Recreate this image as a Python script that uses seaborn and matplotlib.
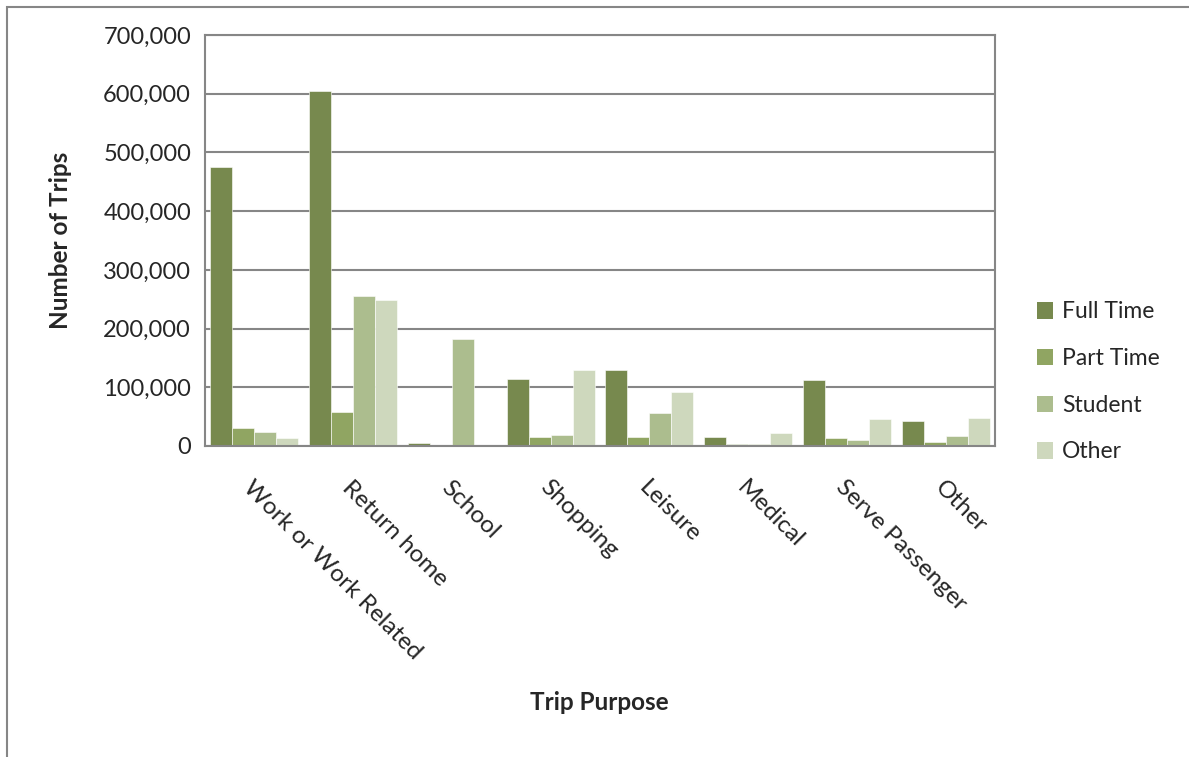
import pandas as pd
import matplotlib.pyplot as plt
import matplotlib.transforms as mtransforms
from matplotlib.patches import Rectangle
from matplotlib.ticker import FuncFormatter
import seaborn as sns

# values
purposes = ['Work or Work Related', 'Return home', 'School', 'Shopping',
            'Leisure', 'Medical', 'Serve Passenger', 'Other']
full_time = [475000, 604000, 4500, 114000, 130000, 15000, 112000, 43000]
part_time = [30000, 58000, 1000, 16000, 15000, 3500, 13000, 7000]
student = [23000, 255000, 182000, 19000, 57000, 4000, 10000, 16500]
other = [14000, 248000, 0, 130000, 92000, 22000, 46000, 47000]

groups = ['Full Time', 'Part Time', 'Student', 'Other']
colors = ['#7B9344', '#94B057', '#AEC586', '#CFDCB9']

rows = []
for name, vals in zip(groups, [full_time, part_time, student, other]):
    for p, v in zip(purposes, vals):
        rows.append({'Trip Purpose': p, 'Group': name, 'Trips': v})
df = pd.DataFrame(rows)

sns.set_style('white')
plt.rcParams['font.family'] = ['Lato', 'DejaVu Sans']

fig = plt.figure(figsize=(11.89, 7.57), dpi=100)
ax = fig.add_axes([205/1189, 1 - 446/757, 790/1189, 411/757])

sns.barplot(data=df, x='Trip Purpose', y='Trips', hue='Group',
            hue_order=groups, order=purposes, palette=colors,
            width=0.89, edgecolor='white', linewidth=0.4, ax=ax, legend=True)

ax.set_ylim(0, 700000)
ax.set_xlim(-0.5, len(purposes) - 0.5)
ax.set_yticks(range(0, 700001, 100000))
ax.yaxis.set_major_formatter(FuncFormatter(lambda v, _: f'{int(v):,}'))
ax.yaxis.grid(True, color='#868686', linewidth=1.5)
ax.set_axisbelow(True)
for s in ax.spines.values():
    s.set_color('#868686')
    s.set_linewidth(1.5)
ax.tick_params(axis='y', labelsize=17, length=0, pad=10)
ax.tick_params(axis='x', labelsize=17.5, length=0, pad=22)

offset = mtransforms.ScaledTranslation(0, 0, fig.dpi_scale_trans)
for lab in ax.get_xticklabels():
    lab.set_rotation(-45)
    lab.set_ha('left')
    lab.set_va('top')
    lab.set_rotation_mode('anchor')
    lab.set_transform(lab.get_transform() + offset)

ax.set_xlabel('')
ax.set_ylabel('')
fig.text(599/1189, 1 - 703/757, 'Trip Purpose', fontsize=17.5, fontweight='bold',
         ha='center', va='center')
fig.text(60/1189, 1 - 240/757, 'Number of Trips', fontsize=17.5, fontweight='bold',
         ha='center', va='center', rotation=90)

leg = ax.legend(loc='center left', bbox_to_anchor=(1016/1189, 1 - 382/757),
                bbox_transform=fig.transFigure, frameon=False, fontsize=16.5,
                handlelength=0.7, handleheight=0.7, handletextpad=0.4,
                labelspacing=1.12)
for h in leg.legend_handles:
    h.set_edgecolor('none')

# outer chart frame
fig.patches.append(Rectangle((7/1189, -0.1), 1.2, 1 - 7/757 + 0.1,
                             transform=fig.transFigure, fill=False,
                             edgecolor='#868686', linewidth=1.5))

fig.savefig('out.png', dpi=100)
